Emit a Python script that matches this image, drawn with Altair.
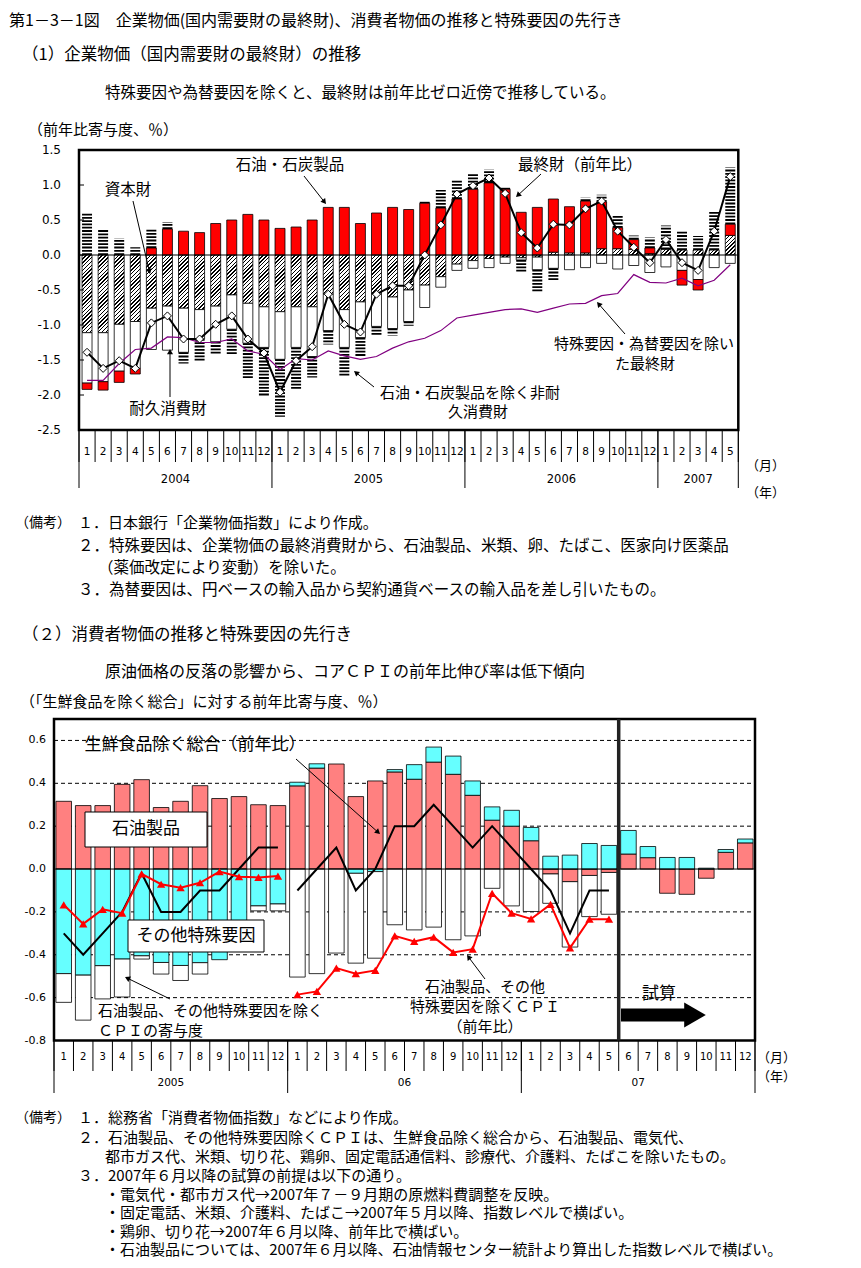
import math
import altair as alt

M = 8  # page margin: reference page coordinates minus this = chart coordinates
JP = "Noto Sans CJK JP"
NUM = "DejaVu Sans"

# ================= Panel (1): 企業物価（国内需要財の最終財） =================
top_month_labels = [str(m) for m in range(1, 13)] * 3 + ["1", "2", "3", "4", "5"]
top_years = ["2004", "2005", "2006", "2007"]
top_year_bounds = [0, 12, 24, 36, 41]
top_ticks = [1.5, 1.0, 0.5, 0.0, -0.5, -1.0, -1.5, -2.0, -2.5]

capital_goods = [-1.11, -1.11, -0.99, -0.95, -0.76, -0.73, -0.76, -0.78, -0.73, -0.57, -0.69, -0.74,
                 -0.81, -0.74, -0.74, -0.56, -0.78, -0.67, -0.56, -0.60, -0.50, -0.43, -0.31, -0.13,
                 -0.08, -0.05, -0.03, -0.04, -0.03, 0.04, 0.03, 0.03, 0.09, 0.09, 0.08, 0.02,
                 0.08, 0.07, 0.07, 0.07, 0.28]
durable_goods = [-0.72, -0.70, -0.67, -0.67, -0.59, -0.63, -0.63, -0.42, -0.51, -0.49, -0.57, -0.58,
                 -0.68, -0.58, -0.71, -0.52, -0.54, -0.51, -0.46, -0.45, -0.45, -0.32, -0.15, -0.09,
                 -0.11, -0.13, -0.09, -0.03, -0.18, -0.19, -0.21, -0.18, -0.12, -0.20, -0.15, -0.25,
                 -0.17, -0.22, -0.35, -0.18, -0.12]
oil_coal = [-0.09, -0.12, -0.16, -0.08, 0.10, 0.37, 0.34, 0.32, 0.45, 0.50, 0.58, 0.50,
            0.38, 0.40, 0.50, 0.68, 0.68, 0.45, 0.60, 0.68, 0.65, 0.74, 0.67, 0.80,
            0.94, 1.03, 0.94, 0.61, 0.68, 0.76, 0.66, 0.74, 0.67, 0.30, 0.14, 0.08,
            0.00, -0.21, -0.15, 0.00, 0.16]
nondurable_goods = [0.59, 0.36, 0.24, 0.11, 0.28, 0.10, -0.16, -0.31, -0.18, -0.36, -0.50, -0.70,
                    -0.82, -0.60, -0.30, -0.20, -0.40, -0.27, -0.12, -0.10, -0.06, 0.02, 0.26, 0.27,
                    0.23, 0.19, 0.02, -0.18, -0.32, -0.17, 0.00, 0.05, 0.10, 0.17, 0.06, 0.15,
                    0.34, 0.27, 0.20, 0.56, 0.81]
final_goods_yoy = [-1.39, -1.62, -1.51, -1.62, -0.97, -0.87, -1.20, -1.20, -0.99, -0.87, -1.20, -1.40,
                   -1.96, -1.51, -1.31, -0.56, -0.99, -1.10, -0.56, -0.44, -0.44, 0.00, 0.43, 0.87,
                   0.99, 1.10, 0.88, 0.32, 0.10, 0.44, 0.43, 0.66, 0.77, 0.34, 0.11, -0.11,
                   0.22, -0.11, -0.22, 0.34, 1.12]
final_goods_adjusted = [-1.79, -1.79, -1.55, -1.35, -1.33, -1.17, -1.18, -1.25, -1.25, -1.20, -1.37, -1.42,
                        -1.64, -1.48, -1.50, -1.37, -1.44, -1.49, -1.45, -1.33, -1.24, -1.19, -1.08, -0.90,
                        -0.86, -0.82, -0.78, -0.77, -0.82, -0.76, -0.70, -0.69, -0.58, -0.55, -0.28, -0.39,
                        -0.40, -0.33, -0.44, -0.36, -0.14]

# ================= Panel (2): 消費者物価 =================
bot_month_labels = [str(m) for m in range(1, 13)] * 3
bot_years = ["2005", "06", "07"]
bot_year_bounds = [0, 12, 24, 36]
bot_ticks = [0.6, 0.4, 0.2, 0.0, -0.2, -0.4, -0.6, -0.8]
bot_grid = [0.6, 0.4, 0.2, -0.2, -0.4, -0.6]
forecast_start = 29

cpi_oil = [0.316, 0.296, 0.296, 0.395, 0.417, 0.287, 0.316, 0.389, 0.329, 0.338, 0.300, 0.296,
           0.388, 0.471, 0.490, 0.338, 0.411, 0.453, 0.419, 0.499, 0.442, 0.344, 0.228, 0.200,
           0.132, -0.023, -0.059, -0.030, -0.016, 0.070, 0.053, -0.113, -0.118, -0.043, 0.078, 0.122]
cpi_other = [-0.488, -0.495, -0.451, -0.420, -0.405, -0.436, -0.450, -0.437, -0.423, -0.310, -0.172, -0.163,
             0.017, 0.020, 0.000, -0.020, -0.012, 0.011, 0.068, 0.070, 0.085, 0.067, 0.062, 0.074,
             0.062, 0.060, 0.065, 0.119, 0.110, 0.110, 0.052, 0.054, 0.054, 0.004, 0.013, 0.018]
cpi_core_contrib = [-0.134, -0.210, -0.155, -0.177, -0.015, -0.054, -0.070, -0.053, 0.000, -0.020, -0.023, -0.032,
                    -0.504, -0.488, -0.392, -0.419, -0.404, -0.260, -0.284, -0.271, -0.330, -0.312, -0.090, -0.172,
                    -0.198, -0.137, -0.305, -0.192, -0.195]
core_yoy_2005 = [-0.30, -0.40, -0.30, -0.20, -0.02, -0.20, -0.20, -0.10, -0.10, 0.00, 0.10, 0.10]
core_yoy_2006_07 = [-0.10, 0.00, 0.10, -0.10, 0.00, 0.20, 0.20, 0.30, 0.20, 0.10, 0.20, 0.10,
                    0.00, -0.10, -0.30, -0.10, -0.10]
excl_yoy_2005 = [-0.167, -0.256, -0.188, -0.206, -0.023, -0.071, -0.087, -0.064, -0.012, -0.036, -0.039, -0.033]
excl_yoy_2006_07 = [-0.586, -0.571, -0.462, -0.488, -0.473, -0.312, -0.338, -0.318, -0.389, -0.374, -0.113, -0.206,
                    -0.233, -0.165, -0.368, -0.234, -0.234]

# ================= scales (plot areas placed on the page) =================
TX = alt.Scale(domain=[0, 41], range=[79 - M, 738.3 - M], nice=False, zero=False)
TY = alt.Scale(domain=[-2.5, 1.5], range=[430 - M, 150 - M], nice=False, zero=False)
BX = alt.Scale(domain=[0, 36], range=[54 - M, 755 - M], nice=False, zero=False)
BY = alt.Scale(domain=[-0.8, 0.7], range=[1040.5 - M, 719 - M], nice=False, zero=False)
TOP_PX = (430 - 150) / 4.0
TOP_BAR_FRAC = 0.62
TOP_BAR_PX = TOP_BAR_FRAC * (738.3 - 79) / 41
BOT_BAR_FRAC = 0.80


def stack(series, names, frac):
    rows = []
    n = max(len(s) for s in series)
    for i in range(n):
        pos = neg = 0.0
        for name, s in zip(names, series):
            v = s[i] if i < len(s) else 0.0
            if not v:
                continue
            if v > 0:
                a, b = pos, pos + v
                pos = b
            else:
                a, b = neg, neg + v
                neg = b
            rows.append({"s": name, "xc": i + 0.5, "x0": i + 0.5 - frac / 2, "x1": i + 0.5 + frac / 2,
                         "y0": a, "y1": b, "v": v})
    return rows


def hatch(h_px, w=TOP_BAR_PX, period=2.7, frac=0.38):
    h = max(h_px, 0.8)
    L = w + h
    k = L / (h + w * w / h)
    dt = period * math.sqrt(2) / L
    stops = []
    t = 0.0
    while t < 1.0:
        b = min(t + dt * frac, 1.0)
        c = min(t + dt, 1.0)
        stops += [{"offset": round(t, 4), "color": "#000000"}, {"offset": round(b, 4), "color": "#000000"},
                  {"offset": round(b, 4), "color": "#ffffff"}, {"offset": round(c, 4), "color": "#ffffff"}]
        t += dt
    return {"gradient": "linear", "x1": 0, "y1": 0, "x2": round(k * w / h, 4), "y2": round(k, 4), "stops": stops}


def ch(rows):
    return alt.Chart(alt.Data(values=rows))


def px(field):
    return alt.X(field, type="quantitative", scale=None, axis=None)


def py(field):
    return alt.Y(field, type="quantitative", scale=None, axis=None)


layers = []

# ---------- panel (2) dashed grid (behind bars) ----------
layers.append(ch([{"v": g, "a": 0, "b": 36} for g in bot_grid]).mark_rule(
    color="black", strokeWidth=1, strokeDash=[4, 3]).encode(
    x=alt.X("a:Q", scale=BX, axis=None), x2="b:Q", y=alt.Y("v:Q", scale=BY, axis=None)))

# ---------- panel (1) bars ----------
top_rows = stack([capital_goods, durable_goods, oil_coal, nondurable_goods],
                 ["capital", "durable", "oil", "nondurable"], TOP_BAR_FRAC)
cap_rows = [dict(r, g=hatch(abs(r["v"]) * TOP_PX)) for r in top_rows if r["s"] == "capital"]
layers.append(ch(cap_rows).mark_rect(stroke="black", strokeWidth=0.8).encode(
    x=alt.X("x0:Q", scale=TX, axis=None), x2="x1:Q",
    y=alt.Y("y0:Q", scale=TY, axis=None), y2="y1:Q",
    fill=alt.Fill("g:N", scale=None)))
for name, colour in [("durable", "#ffffff"), ("oil", "#ff0000")]:
    layers.append(ch([r for r in top_rows if r["s"] == name]).mark_rect(
        fill=colour, stroke="black", strokeWidth=0.8).encode(
        x=alt.X("x0:Q", scale=TX, axis=None), x2="x1:Q",
        y=alt.Y("y0:Q", scale=TY, axis=None), y2="y1:Q"))
layers.append(ch([r for r in top_rows if r["s"] == "nondurable"]).mark_rule(
    color="black", strokeWidth=TOP_BAR_PX, strokeDash=[1.8, 1.5]).encode(
    x=alt.X("xc:Q", scale=TX, axis=None),
    y=alt.Y("y0:Q", scale=TY, axis=None), y2="y1:Q"))

# ---------- panel (2) bars ----------
bot_rows = stack([cpi_oil, cpi_other, cpi_core_contrib], ["oil", "other", "core"], BOT_BAR_FRAC)
for name, colour in [("oil", "#ff8080"), ("other", "#66ffff"), ("core", "#ffffff")]:
    layers.append(ch([r for r in bot_rows if r["s"] == name]).mark_rect(
        fill=colour, stroke="black", strokeWidth=0.8).encode(
        x=alt.X("x0:Q", scale=BX, axis=None), x2="x1:Q",
        y=alt.Y("y0:Q", scale=BY, axis=None), y2="y1:Q"))

# zero lines
layers.append(ch([{"a": 0, "b": 41, "v": 0}]).mark_rule(color="black", strokeWidth=1).encode(
    x=alt.X("a:Q", scale=TX, axis=None), x2="b:Q", y=alt.Y("v:Q", scale=TY, axis=None)))
layers.append(ch([{"a": 0, "b": 36, "v": 0}]).mark_rule(color="black", strokeWidth=1).encode(
    x=alt.X("a:Q", scale=BX, axis=None), x2="b:Q", y=alt.Y("v:Q", scale=BY, axis=None)))

# annotation boxes in panel (2) (page coords)
boxes = [(85, 812, 207, 847), (128, 920, 264, 952)]
layers.append(ch([{"x": a - M, "y": b - M, "x2": c - M, "y2": d - M} for a, b, c, d in boxes]).mark_rect(
    fill="white", stroke="black", strokeWidth=1).encode(x=px("x"), x2="x2:Q", y=py("y"), y2="y2:Q"))

# ---------- panel (1) lines ----------
adj_rows = [{"x": i + 0.5, "v": v} for i, v in enumerate(final_goods_adjusted)]
layers.append(ch(adj_rows).mark_line(color="#800080", strokeWidth=1.2).encode(
    x=alt.X("x:Q", scale=TX, axis=None), y=alt.Y("v:Q", scale=TY, axis=None)))
fin_rows = [{"x": i + 0.5, "v": v} for i, v in enumerate(final_goods_yoy)]
layers.append(ch(fin_rows).mark_line(color="black", strokeWidth=2).encode(
    x=alt.X("x:Q", scale=TX, axis=None), y=alt.Y("v:Q", scale=TY, axis=None)))
layers.append(ch(fin_rows).mark_point(shape="diamond", filled=True, fill="white", stroke="black",
                                      strokeWidth=1, size=64, opacity=1).encode(
    x=alt.X("x:Q", scale=TX, axis=None), y=alt.Y("v:Q", scale=TY, axis=None)))

# ---------- panel (2) lines ----------
core_rows = ([{"x": i + 0.5, "v": v, "seg": "a"} for i, v in enumerate(core_yoy_2005)] +
             [{"x": 12 + i + 0.5, "v": v, "seg": "b"} for i, v in enumerate(core_yoy_2006_07)])
layers.append(ch(core_rows).mark_line(color="black", strokeWidth=2).encode(
    x=alt.X("x:Q", scale=BX, axis=None), y=alt.Y("v:Q", scale=BY, axis=None), detail="seg:N"))
excl_rows = ([{"x": i + 0.5, "v": v, "seg": "a"} for i, v in enumerate(excl_yoy_2005)] +
             [{"x": 12 + i + 0.5, "v": v, "seg": "b"} for i, v in enumerate(excl_yoy_2006_07)])
layers.append(ch(excl_rows).mark_line(color="#ff0000", strokeWidth=2).encode(
    x=alt.X("x:Q", scale=BX, axis=None), y=alt.Y("v:Q", scale=BY, axis=None), detail="seg:N"))
layers.append(ch(excl_rows).mark_point(shape="triangle-up", filled=True, color="#ff0000",
                                       size=70, opacity=1).encode(
    x=alt.X("x:Q", scale=BX, axis=None), y=alt.Y("v:Q", scale=BY, axis=None)))

# ---------- frames ----------
layers.append(ch([{"a": 0, "b": 41, "c": -2.5, "d": 1.5}]).mark_rect(
    fillOpacity=0, stroke="black", strokeWidth=2.5).encode(
    x=alt.X("a:Q", scale=TX, axis=None), x2="b:Q", y=alt.Y("c:Q", scale=TY, axis=None), y2="d:Q"))
layers.append(ch([{"a": 0, "b": 36, "c": -0.8, "d": 0.7}]).mark_rect(
    fillOpacity=0, stroke="black", strokeWidth=2.5).encode(
    x=alt.X("a:Q", scale=BX, axis=None), x2="b:Q", y=alt.Y("c:Q", scale=BY, axis=None), y2="d:Q"))
layers.append(ch([{"a": forecast_start, "c": -0.8, "d": 0.7}]).mark_rule(
    color="#222222", strokeWidth=3.5).encode(
    x=alt.X("a:Q", scale=BX, axis=None), y=alt.Y("c:Q", scale=BY, axis=None), y2="d:Q"))

# ---------- y tick labels and inner ticks ----------
layers.append(ch([{"v": t, "t": f"{t:.1f}"} for t in top_ticks]).mark_text(
    align="right", baseline="middle", font=NUM, fontSize=12, color="black").encode(
    x=alt.value(61 - M), y=alt.Y("v:Q", scale=TY, axis=None), text="t:N"))
layers.append(ch([{"v": t} for t in top_ticks[1:-1]]).mark_rule(color="black", strokeWidth=1).encode(
    x=alt.value(79 - M), x2=alt.value(84 - M), y=alt.Y("v:Q", scale=TY, axis=None)))
layers.append(ch([{"v": t, "t": f"{t:.1f}"} for t in bot_ticks]).mark_text(
    align="right", baseline="middle", font=NUM, fontSize=11, color="black").encode(
    x=alt.value(46 - M), y=alt.Y("v:Q", scale=BY, axis=None), text="t:N"))

# ---------- month / year axis rows ----------
layers.append(ch([{"k": k} for k in range(42)]).mark_rule(color="black", strokeWidth=1).encode(
    x=alt.X("k:Q", scale=TX, axis=None), y=alt.value(430 - M), y2=alt.value(462 - M)))
layers.append(ch([{"k": k} for k in top_year_bounds]).mark_rule(color="black", strokeWidth=1).encode(
    x=alt.X("k:Q", scale=TX, axis=None), y=alt.value(430 - M), y2=alt.value(488 - M)))
layers.append(ch([{"x": i + 0.5, "t": t} for i, t in enumerate(top_month_labels)]).mark_text(
    align="center", baseline="middle", font=NUM, fontSize=10.5, color="black").encode(
    x=alt.X("x:Q", scale=TX, axis=None), y=alt.value(452 - M), text="t:N"))
layers.append(ch([{"x": (top_year_bounds[j] + top_year_bounds[j + 1]) / 2, "t": y}
                  for j, y in enumerate(top_years)]).mark_text(
    align="center", baseline="middle", font=NUM, fontSize=11.5, color="black").encode(
    x=alt.X("x:Q", scale=TX, axis=None), y=alt.value(480 - M), text="t:N"))

layers.append(ch([{"k": k} for k in range(37)]).mark_rule(color="black", strokeWidth=1).encode(
    x=alt.X("k:Q", scale=BX, axis=None), y=alt.value(1041 - M), y2=alt.value(1071 - M)))
layers.append(ch([{"k": k} for k in bot_year_bounds]).mark_rule(color="black", strokeWidth=1).encode(
    x=alt.X("k:Q", scale=BX, axis=None), y=alt.value(1041 - M), y2=alt.value(1093 - M)))
layers.append(ch([{"x": i + 0.5, "t": t} for i, t in enumerate(bot_month_labels)]).mark_text(
    align="center", baseline="middle", font=NUM, fontSize=10, color="black").encode(
    x=alt.X("x:Q", scale=BX, axis=None), y=alt.value(1057 - M), text="t:N"))
layers.append(ch([{"x": (bot_year_bounds[j] + bot_year_bounds[j + 1]) / 2, "t": y}
                  for j, y in enumerate(bot_years)]).mark_text(
    align="center", baseline="middle", font=NUM, fontSize=10.5, color="black").encode(
    x=alt.X("x:Q", scale=BX, axis=None), y=alt.value(1083 - M), text="t:N"))

# ---------- text (page coordinates) ----------
left_texts = [
    (9, 21, "第1－3－1図　企業物価(国内需要財の最終財)、消費者物価の推移と特殊要因の先行き", 16),
    (22, 55, "（1）企業物価（国内需要財の最終財）の推移", 16.5),
    (105, 93, "特殊要因や為替要因を除くと、最終財は前年比ゼロ近傍で推移している。", 15.5),
    (28, 130, "（前年比寄与度、％）", 15),
    (746, 466, "（月）", 13),
    (746, 493, "（年）", 13),
    (15, 523, "（備考）", 14),
    (78, 523, "１．日本銀行「企業物価指数」により作成。", 15),
    (78, 546, "２．特殊要因は、企業物価の最終消費財から、石油製品、米類、卵、たばこ、医家向け医薬品", 15.5),
    (98, 568, "（薬価改定により変動）を除いた。", 15.5),
    (78, 590, "３．為替要因は、円ベースの輸入品から契約通貨ベースの輸入品を差し引いたもの。", 15.5),
    (22, 635, "（２）消費者物価の推移と特殊要因の先行き", 16.5),
    (105, 672, "原油価格の反落の影響から、コアＣＰＩの前年比伸び率は低下傾向", 16),
    (20, 702, "（「生鮮食品を除く総合」に対する前年比寄与度、％）", 15),
    (98, 1011, "石油製品、その他特殊要因を除く", 15),
    (98, 1031, "ＣＰＩの寄与度", 15),
    (757, 1058, "（月）", 13),
    (757, 1077, "（年）", 13),
    (15, 1118, "（備考）", 14),
    (78, 1118, "１．総務省「消費者物価指数」などにより作成。", 15),
    (78, 1137.5, "２．石油製品、その他特殊要因除くＣＰＩは、生鮮食品除く総合から、石油製品、電気代、", 15),
    (105, 1156.5, "都市ガス代、米類、切り花、鶏卵、固定電話通信料、診療代、介護料、たばこを除いたもの。", 15),
    (78, 1175.5, "３．2007年６月以降の試算の前提は以下の通り。", 15),
    (105, 1194.5, "・電気代・都市ガス代→2007年７－９月期の原燃料費調整を反映。", 15),
    (105, 1213, "・固定電話、米類、介護料、たばこ→2007年５月以降、指数レベルで横ばい。", 15),
    (105, 1231.5, "・鶏卵、切り花→2007年６月以降、前年比で横ばい。", 15),
    (105, 1250, "・石油製品については、2007年６月以降、石油情報センター統計より算出した指数レベルで横ばい。", 15),
]
center_texts = [
    (128, 190, "資本財", 15.5),
    (290, 165, "石油・石炭製品", 15.5),
    (580, 165, "最終財（前年比）", 15.5),
    (644, 344, "特殊要因・為替要因を除い", 15),
    (645, 364, "た最終財", 15),
    (168, 409, "耐久消費財", 15.5),
    (470, 393, "石油・石炭製品を除く非耐", 15),
    (478, 412, "久消費財", 15),
    (195, 745, "生鮮食品除く総合（前年比）", 17),
    (146, 829, "石油製品", 17),
    (196, 936, "その他特殊要因", 17),
    (485, 987, "石油製品、その他", 15),
    (485, 1007, "特殊要因を除くＣＰＩ", 15),
    (485, 1027, "（前年比）", 15),
    (659, 994, "試算", 17),
]
for rows, align in [(left_texts, "left"), (center_texts, "center")]:
    layers.append(ch([{"x": x - M, "y": y - M, "t": t, "s": s} for x, y, t, s in rows]).mark_text(
        align=align, baseline="middle", font=JP, color="black").encode(
        x=px("x"), y=py("y"), text="t:N", size=alt.Size("s:Q", scale=None)))

# ---------- arrows (page coordinates) ----------
arrows = [
    (133, 201, 150, 274), (304, 176, 326, 204), (541, 174, 516, 197),
    (625, 334, 597, 302), (170, 397, 170, 349), (374, 387, 354, 371),
    (296, 759, 380, 834), (170, 999, 125, 977), (485, 979, 467, 955),
]
HEAD = 36
h_tip = math.sqrt(3) / 2 * math.sqrt(HEAD) / 2
shafts, heads = [], []
for x1, y1, x2, y2 in arrows:
    dx, dy = x2 - x1, y2 - y1
    L = math.hypot(dx, dy)
    ux, uy = dx / L, dy / L
    cx, cy = x2 - ux * h_tip, y2 - uy * h_tip
    shafts.append({"x": x1 - M, "y": y1 - M, "x2": cx - M, "y2": cy - M})
    heads.append({"x": cx - M, "y": cy - M, "a": math.degrees(math.atan2(ux, -uy)) % 360})
layers.append(ch(shafts).mark_rule(color="black", strokeWidth=1).encode(
    x=px("x"), y=py("y"), x2="x2:Q", y2="y2:Q"))
layers.append(ch(heads).mark_point(shape="triangle-up", filled=True, color="black", size=HEAD, opacity=1).encode(
    x=px("x"), y=py("y"), angle=alt.Angle("a:Q", scale=None)))

# big "試算" arrow
layers.append(ch([{"x": 621 - M, "x2": 688 - M, "y": 1015 - M}]).mark_rule(
    color="black", strokeWidth=13).encode(x=px("x"), x2="x2:Q", y=py("y")))
layers.append(ch([{"x": 695 - M, "y": 1015 - M}]).mark_point(
    shape="triangle-right", filled=True, color="black", size=625, opacity=1).encode(x=px("x"), y=py("y")))

chart = alt.layer(*layers).resolve_scale(x="independent", y="independent").properties(
    width=845, height=1251, autosize=alt.AutoSizeParams(type="none"), padding=0, background="white"
).configure_view(stroke=None)

chart.save("out.html", embed_options={"renderer": "svg", "actions": False})
